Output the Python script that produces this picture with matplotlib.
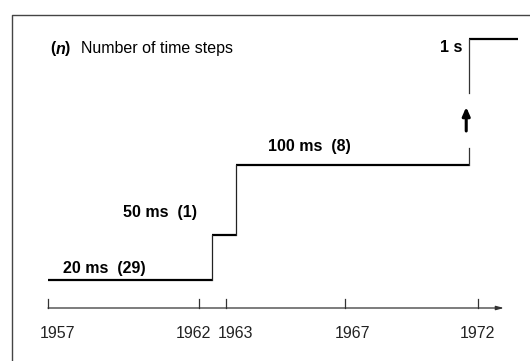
import numpy as np
import matplotlib
matplotlib.use("Agg")
import matplotlib.pyplot as plt
import matplotlib.transforms as mtrans

plt.rcParams['font.family'] = ['Liberation Sans', 'DejaVu Sans']

# ---- data ----
tick_years = [1957, 1962, 1963, 1967, 1972]
tick_labels = ['1957', '1962', '1963', '1967', '1972']
step_ms = [20, 50, 100, 1000]                      # time-step size
step_counts = [29, 1, 8, None]                      # years spent at that step
step_start = [1957, 1962.5, 1963.33, 1971.67]       # year each step begins
step_end_last = 1973.5                              # end of last segment
step_text = ['20 ms  (29)', '50 ms  (1)', '100 ms  (8)', '1 s']
title_text = 'Number of time steps'

# ---- schematic (non-linear) scales ----
x_anchor_px = [48, 199, 226, 345, 478]
y_anchor_px = [81, 126, 196, 322]   # height above bottom


def make_pw(xa, ya):
    xa = np.asarray(xa, float); ya = np.asarray(ya, float)
    s0 = (ya[1] - ya[0]) / (xa[1] - xa[0])
    s1 = (ya[-1] - ya[-2]) / (xa[-1] - xa[-2])

    def fwd(x):
        x = np.asarray(x, float)
        y = np.interp(x, xa, ya)
        y = np.where(x < xa[0], ya[0] + (x - xa[0]) * s0, y)
        y = np.where(x > xa[-1], ya[-1] + (x - xa[-1]) * s1, y)
        return y

    def inv(y):
        y = np.asarray(y, float)
        x = np.interp(y, ya, xa)
        x = np.where(y < ya[0], xa[0] + (y - ya[0]) / s0, x)
        x = np.where(y > ya[-1], xa[-1] + (y - ya[-1]) / s1, x)
        return x
    return fwd, inv

W, H = 530, 361
FS = 11.5
fig = plt.figure(figsize=(W / 100, H / 100), dpi=100)
ax = fig.add_axes([0, 0, 1, 1])
fx, ix = make_pw(tick_years, x_anchor_px)
fy, iy = make_pw(step_ms, y_anchor_px)
ax.set_xscale('function', functions=(fx, ix))
ax.set_yscale('function', functions=(fy, iy))
ax.set_xlim(float(ix(0)), float(ix(W)))
ax.set_ylim(float(iy(0)), float(iy(H)))
ax.axis('off')

PX = 72 / 100  # points per pixel

# frame (left + top)
ax.plot([12 / W, 12 / W, 1], [0, 1 - 15 / H, 1 - 15 / H], transform=ax.transAxes,
        color='#444444', lw=1.0, clip_on=False)

# steps
ends = step_start[1:] + [step_end_last]
for i, (x0, x1, v) in enumerate(zip(step_start, ends, step_ms)):
    ax.plot([x0, x1], [v, v], color='black', lw=1.6, solid_capstyle='butt')
    if 0 < i < len(step_ms) - 1:
        ax.plot([x0, x0], [step_ms[i - 1], v], color='#222222', lw=0.9)

# broken riser to 1 s with upward arrow
xr = step_start[-1]
lo, hi = fy(step_ms[-2]), fy(step_ms[-1])
def lvl(f):
    return float(iy(lo + f * (hi - lo)))
ax.plot([xr, xr], [lvl(0), lvl(0.135)], color='#333333', lw=0.9)
ax.plot([xr, xr], [lvl(0.571), lvl(1)], color='#333333', lw=0.9)
xa_ = float(ix(fx(xr) - 3))
ax.annotate('', xy=(xa_, lvl(0.46)), xytext=(xa_, lvl(0.27)),
            arrowprops=dict(arrowstyle='-|>,head_width=0.22,head_length=0.5', color='black', lw=2.2,
                            shrinkA=0, shrinkB=0))

# step labels
lab_kw = dict(textcoords='offset points', fontsize=FS, fontweight='bold', va='center')
ax.annotate(step_text[0], xy=(step_start[0], step_ms[0]), xytext=(15 * PX, 12 * PX), ha='left', **lab_kw)
ax.annotate(step_text[1], xy=(step_start[1], step_ms[1]), xytext=(-15 * PX, 22 * PX), ha='right', **lab_kw)
ax.annotate(step_text[2], xy=(step_start[2], step_ms[2]), xytext=(32 * PX, 18 * PX), ha='left', **lab_kw)
ax.annotate(step_text[3], xy=(step_start[3], step_ms[3]), xytext=(-7 * PX, -8 * PX), ha='right', **lab_kw)

# title
ty = 1 - 49 / H
ax.text(50 / W, ty, '(', transform=ax.transAxes, fontsize=FS, fontweight='bold', va='center')
ax.text(55.5 / W, ty, 'n', transform=ax.transAxes, fontsize=FS, fontweight='bold', style='italic', va='center')
ax.text(64.5 / W, ty, ')', transform=ax.transAxes, fontsize=FS, fontweight='bold', va='center')
ax.text(81 / W, ty, title_text, transform=ax.transAxes, fontsize=FS, va='center')

# time axis
bt = mtrans.blended_transform_factory(ax.transData, ax.transAxes)
ya = 1 - 308 / H
x_end = float(ix(504))
ax.annotate('', xy=(x_end, ya), xytext=(tick_years[0], ya), xycoords=bt, textcoords=bt,
            arrowprops=dict(arrowstyle='-|>,head_width=0.12,head_length=0.45', color='#333333', lw=0.9,
                            shrinkA=0, shrinkB=0))
label_dx = [10, -6, 10, 7, -1]
for yr, lab, dx in zip(tick_years, tick_labels, label_dx):
    ax.plot([yr, yr], [ya, ya + 9 / H], transform=bt, color='#333333', lw=0.9)
    ax.annotate(lab, xy=(yr, 1 - 333 / H), xycoords=bt, xytext=(dx * PX, 0), textcoords='offset points',
                ha='center', va='center', fontsize=FS, color='#222222')

fig.savefig('out.png', dpi=100)
